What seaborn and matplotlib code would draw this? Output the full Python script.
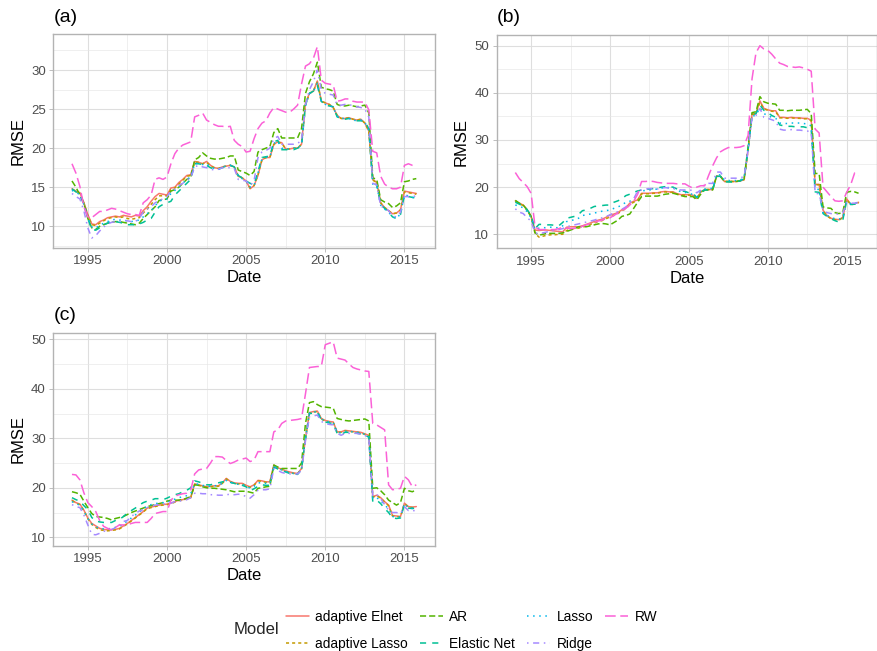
import numpy as np
import pandas as pd
import matplotlib
matplotlib.use("Agg")
import matplotlib.pyplot as plt
from matplotlib.ticker import FixedLocator
import seaborn as sns

# ---------------- data (quarterly, 1994Q1 .. 2015Q4) ----------------
models = ["adaptive Elnet", "adaptive Lasso", "AR", "Elastic Net", "Lasso", "Ridge", "RW"]
dates = pd.date_range("1994-01-01", periods=88, freq="QS")

# Panel (a)
a_elnet = [14.8, 14.5, 14.3, 13.0, 11.5, 10.3, 10.2, 10.6,
           10.8, 11.1, 11.2, 11.3, 11.2, 11.4, 11.3, 11.2,
           11.4, 11.3, 12.0, 12.5, 13.2, 13.8, 14.2, 14.1,
           14.0, 14.9, 15.0, 15.6, 16.0, 16.5, 16.6, 18.3,
           18.2, 18.0, 18.3, 17.8, 17.5, 17.4, 17.6, 17.7,
           17.8, 17.6, 16.4, 16.2, 15.8, 14.8, 15.2, 16.5,
           18.5, 18.8, 18.8, 20.5, 20.8, 20.7, 19.9, 19.9,
           20.0, 20.0, 20.5, 25.8, 27.0, 27.3, 28.6, 26.0,
           25.8, 25.6, 25.2, 24.2, 23.8, 23.8, 23.9, 23.7,
           23.6, 23.7, 23.2, 22.2, 16.0, 15.6, 13.0, 12.4,
           12.0, 11.6, 11.7, 12.1, 14.5, 14.4, 14.3, 14.2]
a_alasso = [14.7, 14.5, 14.2, 13.0, 11.4, 10.2, 10.1, 10.4,
            10.7, 11.0, 11.1, 11.2, 11.1, 11.2, 11.0, 10.9,
            11.0, 11.1, 11.7, 12.2, 12.8, 13.4, 13.9, 13.9,
            13.9, 14.7, 14.9, 15.4, 15.9, 16.4, 16.5, 18.2,
            18.2, 18.0, 18.2, 17.7, 17.5, 17.4, 17.6, 17.7,
            17.8, 17.6, 16.4, 16.2, 15.8, 14.9, 15.2, 16.6,
            18.5, 18.8, 18.8, 20.5, 20.8, 20.6, 19.9, 19.9,
            20.0, 20.0, 20.5, 25.5, 27.0, 27.3, 28.5, 26.0,
            25.8, 25.6, 25.2, 24.2, 23.8, 23.8, 23.9, 23.7,
            23.6, 23.7, 23.2, 22.2, 15.9, 15.6, 13.0, 12.4,
            12.0, 11.6, 11.7, 12.1, 14.4, 14.3, 14.2, 14.1]
a_ar = [15.8, 15.0, 14.0, 13.0, 11.0, 9.8, 9.6, 10.0,
        10.2, 10.4, 10.5, 10.6, 10.6, 10.5, 10.4, 10.3,
        10.2, 10.4, 11.0, 11.5, 12.0, 12.5, 13.3, 13.4,
        13.5, 14.5, 14.7, 15.0, 15.5, 16.0, 16.2, 18.5,
        18.8, 19.4, 19.0, 18.7, 18.6, 18.6, 18.7, 18.8,
        19.0, 19.0, 17.2, 17.0, 16.8, 16.5, 17.0, 19.5,
        19.8, 20.0, 20.2, 22.0, 22.5, 21.3, 21.3, 21.3,
        21.3, 21.3, 22.5, 27.0, 28.5, 29.5, 31.0, 27.8,
        27.6, 27.5, 27.3, 25.6, 25.4, 25.4, 25.5, 25.4,
        25.3, 25.4, 25.5, 24.5, 16.2, 16.0, 13.4, 13.1,
        12.9, 12.4, 12.6, 13.0, 15.7, 15.8, 16.0, 16.1]
a_enet = [14.8, 14.4, 14.0, 12.8, 11.0, 9.6, 9.5, 9.8,
          10.2, 10.4, 10.6, 10.6, 10.5, 10.4, 10.2, 10.2,
          10.2, 10.3, 10.5, 10.8, 11.0, 11.8, 12.5, 12.8,
          13.0, 13.2, 14.0, 14.5, 15.0, 15.5, 16.0, 18.0,
          18.0, 17.9, 17.8, 17.5, 17.3, 17.3, 17.5, 17.7,
          17.8, 17.6, 16.5, 16.2, 15.8, 15.5, 15.3, 17.0,
          18.8, 18.9, 19.0, 20.8, 21.0, 19.8, 19.8, 19.8,
          19.8, 20.0, 20.3, 25.5, 27.0, 27.3, 28.0, 26.0,
          25.5, 25.4, 25.3, 24.0, 23.8, 23.7, 23.8, 23.6,
          23.5, 23.5, 23.4, 22.5, 15.5, 15.3, 12.8, 12.3,
          11.8, 11.2, 11.0, 11.5, 14.0, 13.8, 13.7, 13.6]
a_lasso = [14.6, 14.3, 14.1, 12.8, 11.2, 9.9, 9.8, 10.1,
           10.4, 10.6, 10.8, 10.9, 10.8, 10.8, 10.7, 10.6,
           10.7, 10.8, 11.2, 11.6, 12.0, 12.6, 13.2, 13.4,
           13.5, 14.2, 14.6, 15.0, 15.5, 16.0, 16.3, 18.0,
           18.1, 17.9, 18.0, 17.6, 17.4, 17.3, 17.6, 17.7,
           17.8, 17.6, 16.4, 16.1, 15.8, 15.0, 15.2, 16.8,
           18.6, 18.8, 18.9, 20.6, 20.9, 20.0, 19.9, 19.9,
           20.0, 20.0, 20.4, 25.5, 27.0, 27.3, 28.3, 26.0,
           25.6, 25.5, 25.2, 24.1, 23.8, 23.8, 23.8, 23.6,
           23.5, 23.6, 23.3, 22.3, 15.4, 15.2, 12.7, 12.2,
           11.8, 11.2, 11.0, 11.6, 14.0, 13.9, 13.7, 13.6]
a_ridge = [14.2, 13.8, 13.5, 12.0, 9.8, 8.5, 8.8, 9.4,
           9.9, 10.3, 10.5, 10.6, 10.6, 10.7, 10.7, 10.6,
           10.6, 11.0, 11.8, 12.2, 12.5, 13.0, 13.3, 13.5,
           13.8, 14.5, 14.8, 15.2, 15.5, 15.9, 16.2, 17.6,
           17.8, 17.6, 17.5, 17.3, 17.2, 17.3, 17.5, 17.5,
           17.5, 17.4, 16.0, 15.9, 15.8, 15.2, 15.8, 18.8,
           19.5, 19.7, 20.0, 21.2, 21.5, 20.5, 20.5, 20.5,
           20.5, 20.6, 21.0, 25.5, 27.5, 28.5, 30.0, 27.5,
           27.0, 26.9, 26.8, 25.5, 25.5, 25.6, 25.6, 25.4,
           25.3, 25.2, 25.0, 24.0, 15.5, 15.3, 12.6, 12.3,
           12.0, 11.3, 11.2, 11.8, 13.8, 13.8, 13.8, 13.9]
a_rw = [18.0, 16.8, 15.1, 12.5, 11.2, 11.1, 11.5, 11.9,
        11.9, 12.1, 12.3, 12.2, 12.0, 11.8, 11.6, 11.5,
        11.5, 11.4, 13.0, 13.4, 14.0, 16.0, 16.2, 16.0,
        16.3, 18.0, 19.3, 20.0, 20.4, 20.6, 20.8, 24.0,
        24.2, 24.5, 23.6, 23.3, 23.0, 22.8, 22.8, 22.7,
        22.8, 21.0, 20.5, 20.2, 19.5, 19.6, 21.2, 22.5,
        23.2, 23.5, 24.5, 25.2, 25.0, 24.8, 24.6, 24.6,
        25.0, 25.5, 28.2, 30.5, 30.8, 31.5, 33.0, 28.7,
        28.3, 28.2, 28.1, 26.0, 26.1, 26.3, 26.3, 26.0,
        25.9, 25.9, 25.9, 24.9, 19.6, 19.4, 16.4, 15.4,
        15.0, 14.8, 14.8, 15.0, 17.8, 18.0, 17.8, 17.7]

# Panel (b)
b_elnet = [17.1, 16.6, 16.2, 15.2, 13.8, 10.9, 10.8, 10.9,
           10.9, 10.8, 10.7, 10.6, 10.5, 11.5, 11.6, 11.6,
           11.6, 11.8, 12.1, 12.4, 12.7, 13.0, 13.2, 13.6,
           14.1, 14.3, 14.6, 15.2, 15.6, 16.6, 17.0, 17.3,
           18.7, 18.7, 18.7, 18.8, 18.8, 19.0, 19.1, 19.0,
           19.0, 18.6, 18.4, 18.4, 18.4, 18.3, 17.6, 19.0,
           19.5, 19.5, 19.5, 22.3, 22.3, 21.2, 21.2, 21.2,
           21.2, 21.3, 21.6, 28.0, 35.5, 35.6, 38.3, 36.7,
           36.4, 36.2, 36.2, 34.8, 34.8, 34.7, 34.8, 34.7,
           34.7, 34.6, 34.6, 34.2, 20.6, 20.6, 15.1, 14.0,
           13.4, 13.2, 13.1, 13.6, 17.5, 16.4, 16.5, 16.8]
b_alasso = [17.0, 16.5, 16.1, 15.1, 13.7, 10.2, 9.4, 9.6,
            9.8, 9.9, 9.9, 10.0, 10.0, 10.8, 11.1, 11.2,
            11.3, 11.5, 11.8, 12.1, 12.4, 12.7, 12.9, 13.3,
            13.7, 14.0, 14.4, 15.0, 15.4, 16.3, 16.8, 17.2,
            18.6, 18.6, 18.6, 18.7, 18.7, 18.9, 19.0, 18.9,
            18.9, 18.5, 18.3, 18.3, 18.3, 18.2, 17.5, 18.9,
            19.5, 19.5, 19.5, 22.3, 22.3, 21.2, 21.2, 21.2,
            21.2, 21.3, 21.6, 28.0, 35.4, 35.6, 38.0, 36.6,
            36.3, 36.1, 36.0, 34.7, 34.7, 34.6, 34.7, 34.6,
            34.6, 34.5, 34.5, 34.1, 20.5, 20.5, 15.0, 13.9,
            13.3, 13.1, 13.0, 13.5, 17.4, 16.3, 16.4, 16.7]
b_ar = [17.2, 16.6, 16.2, 15.2, 13.8, 10.3, 9.8, 10.0,
        10.2, 10.2, 10.2, 10.2, 10.3, 10.6, 10.9, 11.2,
        11.6, 11.6, 11.6, 11.8, 12.0, 12.2, 12.3, 12.2,
        12.0, 12.5, 13.0, 13.8, 14.0, 14.3, 15.5, 16.8,
        18.0, 18.1, 18.1, 18.1, 18.1, 18.3, 18.5, 18.6,
        18.7, 18.5, 18.2, 18.0, 18.0, 18.0, 17.3, 18.5,
        19.4, 19.4, 19.4, 22.3, 22.3, 21.2, 21.2, 21.2,
        21.2, 21.4, 21.9, 28.5, 35.8, 36.0, 39.2, 38.1,
        37.8, 37.7, 37.6, 36.3, 36.3, 36.2, 36.3, 36.3,
        36.3, 36.4, 36.5, 35.6, 22.9, 22.9, 15.8, 15.6,
        15.5, 14.6, 14.4, 14.6, 18.9, 19.1, 19.0, 18.7]
b_enet = [16.8, 16.4, 16.0, 15.2, 14.0, 11.2, 12.1, 12.1,
          12.0, 12.0, 11.9, 11.8, 12.5, 13.4, 13.6, 13.8,
          14.2, 15.0, 15.2, 15.5, 15.9, 16.0, 16.1, 16.2,
          16.2, 16.8, 17.1, 17.5, 18.2, 18.5, 18.9, 19.2,
          19.4, 19.5, 19.6, 19.7, 19.8, 20.0, 20.1, 20.1,
          20.0, 19.6, 19.2, 19.1, 18.8, 18.7, 17.8, 19.0,
          19.4, 19.4, 19.5, 22.3, 22.3, 21.2, 21.1, 21.1,
          21.2, 21.3, 21.8, 28.0, 35.3, 35.6, 37.4, 36.3,
          35.8, 35.2, 34.8, 33.2, 33.0, 32.9, 32.9, 32.8,
          32.8, 32.8, 32.6, 32.3, 19.0, 18.9, 14.4, 13.8,
          13.3, 12.9, 12.6, 13.0, 17.2, 16.3, 16.4, 16.5]
b_lasso = [16.2, 16.0, 15.6, 14.8, 13.5, 11.0, 11.3, 11.4,
           11.4, 11.5, 11.4, 11.4, 11.8, 12.7, 12.9, 13.1,
           13.4, 14.0, 14.1, 14.3, 14.5, 14.7, 14.9, 15.0,
           15.2, 15.5, 15.8, 16.2, 16.8, 17.0, 17.5, 18.8,
           19.2, 19.3, 19.4, 19.5, 19.6, 19.8, 19.9, 19.9,
           19.8, 19.4, 19.0, 18.9, 18.6, 18.5, 17.9, 19.2,
           19.6, 19.6, 19.8, 22.6, 22.6, 21.5, 21.4, 21.4,
           21.4, 21.5, 22.0, 28.0, 35.0, 35.3, 36.8, 35.6,
           35.2, 34.8, 34.6, 33.6, 33.5, 33.5, 33.6, 33.6,
           33.6, 33.5, 33.4, 33.0, 19.6, 19.5, 14.6, 14.0,
           13.6, 13.3, 13.2, 13.5, 17.0, 16.5, 16.6, 16.8]
b_ridge = [15.4, 14.7, 14.4, 13.5, 12.8, 10.3, 10.1, 10.3,
           10.5, 10.7, 10.9, 11.0, 11.2, 11.6, 11.8, 12.0,
           12.2, 12.4, 12.6, 12.8, 13.0, 13.3, 13.5, 13.8,
           14.1, 14.6, 14.8, 15.3, 15.8, 16.6, 17.5, 19.2,
           19.4, 19.6, 19.7, 19.7, 19.6, 19.8, 19.9, 19.8,
           19.8, 19.5, 19.4, 19.4, 19.4, 19.3, 18.8, 19.4,
           20.6, 20.8, 20.8, 23.2, 23.2, 21.9, 21.9, 21.9,
           21.9, 22.0, 22.2, 28.0, 34.9, 35.2, 36.7, 34.8,
           34.6, 34.3, 34.0, 32.3, 32.1, 32.1, 32.2, 32.1,
           32.1, 32.0, 31.9, 31.7, 18.7, 18.6, 15.1, 14.6,
           14.4, 14.3, 14.3, 14.5, 16.8, 16.6, 16.6, 16.7]
b_rw = [23.1, 21.8, 21.0, 20.1, 18.7, 11.6, 11.0, 11.0,
        11.0, 11.0, 11.0, 11.2, 11.5, 11.3, 11.2, 11.3,
        11.3, 11.7, 12.0, 12.3, 12.5, 12.8, 13.0, 13.3,
        13.5, 14.0, 14.5, 15.0, 15.5, 16.2, 17.0, 18.5,
        21.2, 21.2, 21.3, 21.2, 21.0, 20.9, 20.8, 20.8,
        20.8, 20.7, 20.7, 20.7, 20.2, 19.8, 20.0, 20.3,
        20.3, 22.5, 24.5, 26.2, 27.5, 28.0, 28.4, 28.4,
        28.4, 28.5, 28.8, 31.0, 43.0, 48.5, 50.0, 49.3,
        49.0, 48.2, 47.2, 46.3, 46.0, 45.6, 45.5, 45.4,
        45.5, 45.3, 45.0, 44.6, 32.3, 31.5, 20.0, 19.0,
        18.0, 17.1, 17.0, 17.1, 18.9, 20.5, 23.0, 22.4]

# Panel (c)
c_elnet = [17.5, 17.0, 16.7, 15.5, 13.9, 12.8, 12.3, 11.8,
           11.6, 11.5, 11.5, 11.6, 11.8, 12.3, 12.8, 13.4,
           14.0, 14.6, 15.2, 15.9, 16.1, 16.3, 16.5, 16.6,
           16.7, 16.9, 17.2, 17.5, 17.6, 17.9, 18.0, 20.8,
           20.6, 20.4, 20.2, 20.3, 20.4, 20.4, 21.0, 21.9,
           21.3, 21.0, 20.9, 20.9, 20.5, 20.2, 20.6, 21.5,
           21.4, 21.2, 21.2, 24.6, 24.0, 23.8, 23.4, 23.2,
           23.0, 22.9, 23.9, 30.0, 35.2, 35.4, 35.5, 34.0,
           33.6, 33.4, 33.3, 31.3, 31.3, 31.6, 31.5, 31.4,
           31.3, 31.2, 30.9, 30.6, 18.2, 18.5, 18.0, 17.2,
           16.5, 14.4, 14.3, 14.2, 16.9, 16.2, 16.1, 16.2]
c_alasso = [17.4, 16.9, 16.6, 15.4, 13.8, 12.6, 12.0, 11.5,
            11.4, 11.3, 11.4, 11.5, 11.7, 12.2, 12.7, 13.3,
            13.9, 14.5, 15.1, 15.8, 16.0, 16.2, 16.4, 16.5,
            16.6, 16.8, 17.1, 17.4, 17.5, 17.8, 18.0, 20.7,
            20.5, 20.3, 20.1, 20.2, 20.3, 20.3, 20.9, 21.8,
            21.2, 20.9, 20.8, 20.8, 20.4, 20.1, 20.5, 21.4,
            21.3, 21.1, 21.1, 24.5, 24.0, 23.7, 23.3, 23.1,
            22.9, 22.8, 23.8, 30.0, 35.1, 35.3, 35.4, 33.9,
            33.5, 33.3, 33.2, 31.2, 31.2, 31.5, 31.4, 31.3,
            31.2, 31.1, 30.8, 30.5, 18.1, 18.4, 17.9, 17.1,
            16.4, 14.3, 14.2, 14.1, 16.8, 16.1, 16.0, 16.1]
c_ar = [19.2, 19.0, 18.7, 17.3, 16.0, 14.8, 14.2, 14.1,
        14.0, 13.8, 13.5, 13.8, 14.0, 14.2, 14.6, 15.0,
        15.3, 15.6, 15.9, 16.2, 16.4, 16.6, 16.8, 17.0,
        17.3, 17.5, 17.5, 17.5, 17.6, 17.9, 18.2, 20.6,
        20.5, 20.2, 20.0, 19.9, 19.9, 19.8, 19.7, 19.6,
        19.4, 19.2, 19.3, 19.3, 19.3, 19.1, 18.9, 19.9,
        20.0, 20.2, 20.3, 24.6, 24.2, 23.9, 23.9, 23.9,
        23.9, 23.9, 25.0, 33.0, 37.2, 37.4, 36.8, 36.4,
        36.3, 36.2, 36.1, 34.0, 33.8, 33.6, 33.5, 33.6,
        33.7, 33.8, 33.9, 33.5, 19.9, 20.0, 19.4, 18.6,
        17.5, 17.0, 16.5, 17.0, 19.9, 19.4, 19.2, 19.6]
c_enet = [18.0, 17.6, 17.3, 16.4, 15.6, 14.0, 13.3, 13.1,
          13.0, 13.0, 13.0, 13.4, 13.6, 14.2, 14.9, 15.4,
          15.9, 16.5, 17.0, 17.3, 17.5, 17.8, 17.8, 17.6,
          17.9, 18.3, 18.6, 18.8, 19.2, 19.5, 20.0, 21.4,
          21.2, 20.9, 20.6, 20.6, 20.8, 21.0, 21.2, 21.3,
          21.1, 20.9, 20.6, 20.5, 20.2, 19.4, 19.8, 20.3,
          20.6, 20.5, 20.5, 24.2, 23.8, 23.5, 23.2, 22.9,
          22.8, 22.7, 23.8, 30.0, 35.0, 35.1, 35.2, 33.8,
          33.3, 33.1, 33.0, 31.0, 30.8, 31.2, 31.2, 31.1,
          31.0, 30.9, 30.7, 30.2, 17.2, 17.5, 16.8, 15.8,
          15.0, 13.9, 13.8, 13.9, 16.6, 15.9, 15.8, 15.9]
c_lasso = [17.2, 16.8, 16.5, 15.3, 13.8, 12.7, 12.1, 11.8,
           11.7, 11.7, 11.8, 12.0, 12.2, 12.7, 13.3, 13.9,
           14.5, 15.1, 15.7, 16.3, 16.6, 16.8, 16.9, 17.0,
           17.1, 17.4, 17.7, 18.0, 18.2, 18.4, 18.8, 20.8,
           20.7, 20.5, 20.3, 20.3, 20.4, 20.5, 20.9, 21.5,
           21.1, 20.9, 20.7, 20.7, 20.4, 19.9, 20.3, 21.0,
           21.0, 20.9, 20.9, 24.4, 23.9, 23.6, 23.3, 23.0,
           22.9, 22.8, 23.8, 30.0, 35.1, 35.3, 35.4, 33.9,
           33.5, 33.3, 33.2, 31.2, 31.1, 31.4, 31.4, 31.3,
           31.2, 31.1, 30.8, 30.4, 17.8, 18.0, 17.4, 16.5,
           15.8, 14.2, 14.1, 14.1, 16.8, 16.0, 15.9, 16.0]
c_ridge = [16.6, 16.2, 16.0, 14.5, 12.5, 10.6, 10.5, 10.8,
           11.2, 11.3, 11.6, 11.9, 12.5, 13.2, 13.4, 14.2,
           14.8, 15.3, 15.6, 16.0, 16.3, 16.5, 16.6, 16.7,
           16.8, 16.9, 17.2, 17.3, 17.4, 17.6, 18.0, 18.9,
           18.9, 18.8, 18.8, 18.6, 18.6, 18.5, 18.5, 18.6,
           18.7, 18.6, 18.7, 18.6, 18.2, 17.9, 18.6, 19.5,
           19.6, 19.6, 19.8, 23.9, 23.5, 23.1, 22.9, 22.8,
           22.8, 22.8, 23.5, 29.5, 34.4, 34.5, 34.7, 33.4,
           33.0, 32.8, 32.7, 31.0, 30.6, 31.0, 31.0, 31.0,
           31.0, 30.8, 30.6, 30.0, 18.4, 18.7, 17.8, 16.6,
           15.5, 15.0, 15.0, 14.8, 16.2, 15.4, 15.3, 15.5]
c_rw = [22.7, 22.6, 21.6, 19.0, 17.0, 16.2, 15.2, 13.4,
        12.2, 11.8, 11.5, 12.0, 12.5, 12.5, 12.5, 12.8,
        13.0, 13.0, 13.0, 13.0, 13.8, 14.8, 15.0, 15.2,
        15.2, 17.5, 18.3, 18.6, 18.8, 18.9, 19.5, 22.8,
        23.6, 23.8, 23.9, 25.0, 26.3, 26.3, 26.2, 25.5,
        24.9, 25.2, 25.6, 25.8, 26.0, 25.3, 25.6, 27.3,
        27.3, 27.3, 27.3, 31.3, 31.7, 33.0, 33.5, 33.6,
        33.7, 33.8, 34.0, 39.0, 44.3, 44.4, 44.5, 44.5,
        48.9, 49.2, 49.5, 46.2, 46.0, 45.8, 45.0, 44.3,
        44.0, 43.8, 43.6, 43.5, 33.0, 32.7, 32.2, 31.7,
        20.6, 19.6, 19.7, 19.9, 22.3, 21.6, 20.2, 20.6]

panels = {
    "a": [a_elnet, a_alasso, a_ar, a_enet, a_lasso, a_ridge, a_rw],
    "b": [b_elnet, b_alasso, b_ar, b_enet, b_lasso, b_ridge, b_rw],
    "c": [c_elnet, c_alasso, c_ar, c_enet, c_lasso, c_ridge, c_rw],
}

# ---------------- styling ----------------
colors = ["#F8766D", "#C49A00", "#53B400", "#00C094", "#00B6EB", "#A58AFF", "#FB61D7"]
dash_styles = ["", (2, 2), (4, 2), (4, 4), (1, 3), (1, 3, 4, 3), (7, 3)]
palette = dict(zip(models, colors))
dashes = dict(zip(models, dash_styles))

sns.set_theme(style="white")
plt.rcParams["font.family"] = ["Liberation Sans", "DejaVu Sans"]

fig = plt.figure(figsize=(8.78, 6.51), dpi=100)
fig.patch.set_facecolor("white")

W, H = 878.0, 651.0
boxes = {  # left, top, right, bottom in pixels
    "a": (53.3, 34.3, 435.3, 248.0),
    "b": (496.7, 35.0, 877.5, 248.3),
    "c": (53.3, 332.7, 435.3, 545.7),
}
ylims = {"a": (7.22, 34.57), "b": (7.03, 52.27), "c": (8.3, 51.33)}
ymaj = {"a": [10, 15, 20, 25, 30], "b": [10, 20, 30, 40, 50], "c": [10, 20, 30, 40, 50]}
ymin_ = {"a": [7.5, 12.5, 17.5, 22.5, 27.5, 32.5], "b": [15, 25, 35, 45], "c": [15, 25, 35, 45]}

year_frac = dates.year + (dates.month - 1) / 12.0

handles = labels = None
for key in ["a", "b", "c"]:
    l, t, r, b = boxes[key]
    ax = fig.add_axes([l / W, 1 - b / H, (r - l) / W, (b - t) / H])
    rows = []
    for m, vals in zip(models, panels[key]):
        assert len(vals) == len(dates), (key, m, len(vals))
        rows.append(pd.DataFrame({"Date": year_frac, "RMSE": vals, "Model": m}))
    df = pd.concat(rows, ignore_index=True)
    sns.lineplot(data=df, x="Date", y="RMSE", hue="Model", style="Model",
                 hue_order=models, style_order=models, palette=palette,
                 dashes=dashes, linewidth=1.1, estimator=None, ax=ax,
                 legend=(key == "a"))
    if key == "a":
        handles, labels = ax.get_legend_handles_labels()
        ax.get_legend().remove()

    ax.set_xlim(1992.82, 2016.95)
    ax.set_ylim(*ylims[key])
    ax.xaxis.set_major_locator(FixedLocator([1995, 2000, 2005, 2010, 2015]))
    ax.xaxis.set_minor_locator(FixedLocator([1997.5, 2002.5, 2007.5, 2012.5]))
    ax.set_xticklabels(["1995", "2000", "2005", "2010", "2015"])
    ax.yaxis.set_major_locator(FixedLocator(ymaj[key]))
    ax.yaxis.set_minor_locator(FixedLocator(ymin_[key]))
    ax.set_yticklabels([str(v) for v in ymaj[key]])
    ax.set_axisbelow(True)
    ax.grid(which="major", color="#DEDEDE", linewidth=0.8)
    ax.grid(which="minor", color="#E6E6E6", linewidth=0.45)
    for sp in ax.spines.values():
        sp.set_visible(True)
        sp.set_color("#B3B3B3")
        sp.set_linewidth(1.0)
    ax.tick_params(which="major", length=2.9, width=0.6, color="#B3B3B3",
                   labelcolor="#4D4D4D", labelsize=9.5, pad=2.5, bottom=True, left=True)
    ax.tick_params(which="minor", length=0)
    ax.set_xlabel("Date", fontsize=12, color="black", labelpad=2)
    ax.set_ylabel("RMSE", fontsize=12, color="black", labelpad=4)
    ax.set_title(f"({key})", loc="left", fontsize=14, color="black", pad=9)

# legend
keep = [(h, lb) for h, lb in zip(handles, labels) if lb in models]
hs = [h for h, _ in keep]
ls = [lb for _, lb in keep]
for h in hs:
    h.set_linewidth(1.1)
leg = fig.legend(hs, ls, ncol=4, loc="center", bbox_to_anchor=(0.537, 0.0315),
                 frameon=False, fontsize=9.9, handlelength=1.7, handletextpad=0.45,
                 columnspacing=0.85, labelspacing=0.95)
for txt in leg.get_texts():
    txt.set_color("black")
fig.text(234 / W, 1 - 629 / H, "Model", fontsize=12, va="center", ha="left")

fig.savefig("out.png", dpi=100, facecolor="white")
